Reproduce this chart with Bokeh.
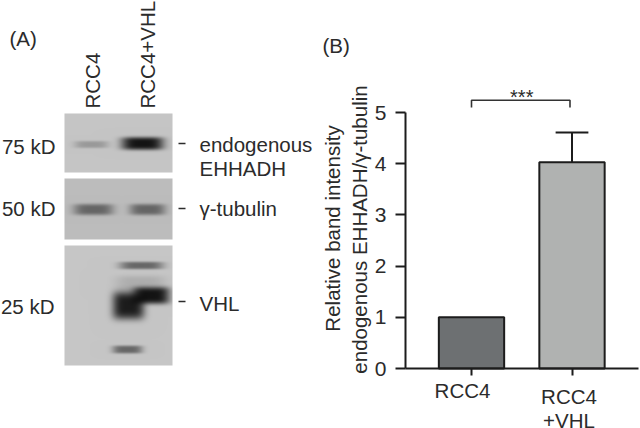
import numpy as np
from bokeh.core.properties import value
from bokeh.embed import file_html
from bokeh.models import ColumnDataSource, FixedTicker, Range1d
from bokeh.plotting import figure
from bokeh.resources import INLINE

FONT = "Liberation Sans"
INK = "#2b2b2b"
LINE = "#1c1c1c"

# (B) bar chart values
bar_positions = [1, 2]
bar_values = [1.0, 4.03]
bar_errors = [0.0, 0.58]
bar_labels = ["RCC4", "RCC4\n+VHL"]
bar_colors = ["#6d7072", "#b0b2b1"]
y_ticks = [0, 1, 2, 3, 4, 5]
y_title = ["Relative band intensity", "endogenous EHHADH/γ-tubulin"]
significance = "***"

# (A) blot panels: x0, x1, y0, y1, background grey
panels = [
    (64, 172, 113, 172, 197),
    (64, 172, 178, 239, 188),
    (64, 172, 245, 365, 198),
]
# blot bands: panel, cx, cy, half-width, half-height, strength
bands = [
    (0, 91, 144, 17, 3.6, 0.22),
    (0, 142, 143, 21, 6.4, 0.90),
    (1, 93, 209, 20, 5.6, 0.46),
    (1, 147, 209, 18, 5.6, 0.46),
    (2, 141, 265, 22, 3.8, 0.48),
    (2, 128, 305, 16, 14, 0.86),
    (2, 151, 295, 18, 8.5, 0.90),
    (2, 127, 349, 15, 4.0, 0.48),
    (2, 140, 283, 25, 8, 0.12),
]
lane_labels = ["RCC4", "RCC4+VHL"]
lane_x = [92, 147]
size_labels = ["75 kD", "50 kD", "25 kD"]
size_y = [146, 208, 306]
target_labels = ["endogenous", "EHHADH", "γ-tubulin", "VHL"]
target_y = [144, 168, 208, 303]
dash_y = [143, 208, 301]

W, H = 640, 428
PX_X, PX_Y = 100.5, 51.2   # pixels per data unit of the bar chart
X1_PX, Y0_PX = 471.0, 368.0  # page position of bar 1 and of value 0


def panel_image(idx, x0, x1, y0, y1, bg):
    xs = np.arange(x0, x1) + 0.5
    ys = np.arange(y0, y1) + 0.5
    xx, yy = np.meshgrid(xs, ys)
    img = np.full(xx.shape, float(bg))
    for pid, cx, cy, hw, hh, amp in bands:
        if pid != idx:
            continue
        d = ((xx - cx) / hw) ** 4 + ((yy - cy) / hh) ** 4
        img *= 1 - amp * np.exp(-d)
    g = img.astype(np.uint8).astype(np.uint32)
    return (255 << 24) | (g << 16) | (g << 8) | g


x_start = 1 - X1_PX / PX_X
x_end = x_start + W / PX_X
y_start = -(H - Y0_PX) / PX_Y
y_end = Y0_PX / PX_Y
axis_x = x_start + 405 / PX_X
axis_right = x_start + 638 / PX_X

p = figure(width=W, height=H, x_range=Range1d(x_start, x_end), y_range=Range1d(y_start, y_end),
           output_backend="svg", toolbar_location=None, min_border=0)
p.grid.visible = False
p.outline_line_color = None
p.extra_x_ranges["page"] = Range1d(0, W)
p.extra_y_ranges["page"] = Range1d(H, 0)
pg = dict(x_range_name="page", y_range_name="page")

for i, (x0, x1, y0, y1, bg) in enumerate(panels):
    p.image_rgba(image=[panel_image(i, x0, x1, y0, y1, bg)], x=x0, y=y0, dw=x1 - x0, dh=y1 - y0, **pg)

tstyle = dict(text_font=value(FONT), text_font_size="20.5px", text_color=INK, text_baseline="middle")
p.text(x=lane_x, y=[108, 108], text=lane_labels, angle=np.pi / 2, text_align="left", **tstyle, **pg)
p.text(x=[55, 55, 54], y=size_y, text=size_labels, text_align="right", **tstyle, **pg)
p.text(x=[199] * 4, y=target_y, text=target_labels, text_align="left", **tstyle, **pg)
p.text(x=[9, 322], y=[38, 45], text=["(A)", "(B)"], text_align="left", **tstyle, **pg)
p.text(x=[332, 359], y=[228, 229], text=y_title, angle=np.pi / 2, text_align="center", **tstyle, **pg)
p.segment(x0=[178] * 3, x1=[185] * 3, y0=dash_y, y1=dash_y, line_color=INK, line_width=1.7, **pg)

src = ColumnDataSource(dict(x=bar_positions, top=bar_values, color=bar_colors))
p.vbar(x="x", top="top", bottom=0, width=0.65, fill_color="color", line_color=LINE,
       line_width=2, source=src)
up = [v + e for v, e in zip(bar_values, bar_errors)]
p.segment(x0=bar_positions[1:], x1=bar_positions[1:], y0=bar_values[1:], y1=up[1:],
          line_color=LINE, line_width=2)
p.segment(x0=[bar_positions[1] - 0.163], x1=[bar_positions[1] + 0.163], y0=up[1:], y1=up[1:],
          line_color=LINE, line_width=2)
p.line(x=[1, 1, 1.98, 1.98], y=[5.1, 5.24, 5.24, 5.1], line_color="#333333", line_width=1.6)
p.text(x=[1.5], y=[5.3], text=[significance], text_align="center", text_baseline="middle",
       text_font=value(FONT), text_font_size="20px", text_color=INK)
p.text(x=bar_positions, y=[0, 0], text=bar_labels, x_offset=[-9, -3], y_offset=[10, 16],
       text_align="center", text_baseline="top", text_font=value(FONT), text_font_size="20.5px",
       text_color=INK, text_line_height=1.05)

p.xaxis.fixed_location = 0
p.xaxis.bounds = (axis_x, axis_right)
p.xaxis.ticker = FixedTicker(ticks=bar_positions)
p.xaxis.major_label_overrides = {1: " ", 2: " "}
p.xaxis.major_tick_in = 0
p.xaxis.major_tick_out = 7
p.xaxis.minor_tick_line_color = None
p.yaxis.fixed_location = axis_x
p.yaxis.ticker = FixedTicker(ticks=y_ticks)
p.yaxis.bounds = (0, 5)
p.yaxis.major_tick_in = 0
p.yaxis.major_tick_out = 10
p.yaxis.minor_tick_line_color = None
p.yaxis.major_label_standoff = 9
p.yaxis.major_label_text_font = FONT
p.yaxis.major_label_text_font_size = "21px"
p.yaxis.major_label_text_color = INK
for ax in (p.xaxis[0], p.yaxis[0]):
    ax.axis_line_width = 2
    ax.axis_line_color = LINE
    ax.major_tick_line_width = 2
    ax.major_tick_line_color = LINE

open("out.html", "w").write(file_html(p, INLINE))
